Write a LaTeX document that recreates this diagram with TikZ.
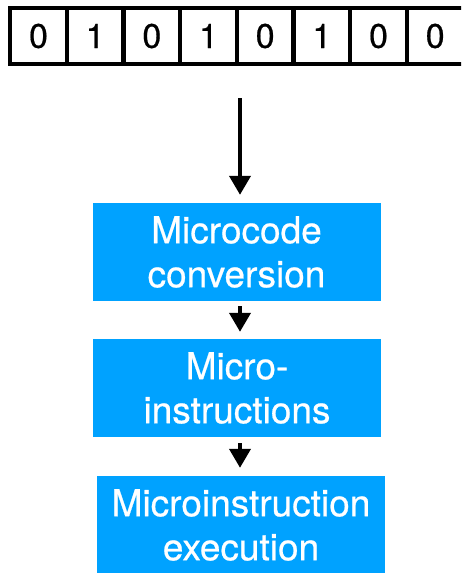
\documentclass[tikz,border=0pt]{standalone}
\usepackage{fontspec}
\setmainfont{TeX Gyre Heros}
\newfontfamily\medfont[FakeBold=0.6]{TeX Gyre Heros}
\usetikzlibrary{arrows.meta}
\definecolor{keyblue}{HTML}{00A2FF}
\tikzset{
  bit/.style={draw=black, line width=4pt, minimum width=57pt, minimum height=56pt, inner sep=0pt, font=\medfont\fontsize{34}{38}\selectfont},
  bluebox/.style={fill=keyblue, text=white, minimum width=288pt, minimum height=98pt, inner sep=0pt, align=center, font=\medfont\fontsize{37}{44}\selectfont},
  flow/.style={line width=4pt, -{Triangle[length=19pt, width=21pt]}},
}
\begin{document}
\begin{tikzpicture}[x=1pt, y=-1pt]
\useasboundingbox (0,0) rectangle (461,573);
\clip (0,0) rectangle (461,573);
\foreach \i/\b in {0/0,1/1,2/0,3/1,4/0,5/1,6/0,7/0} {
  \node[bit] (b\i) at ({38.5+56.67*\i},36) {\b};
}
\node[bluebox] (m1) at (236.5,252) {Microcode\\conversion};
\node[bluebox] (m2) at (237,388) {Micro-\\instructions};
\node[bluebox] (m3) at (241,525) {Microinstruction\\execution};
\coordinate (s1) at (240,98);
\coordinate (s2) at (240,306);
\coordinate (s3) at (240,443);
\draw[flow, shorten >=8pt] (s1) -- (m1.north -| s1);
\draw[flow, shorten >=7pt] (s2) -- (m2.north -| s2);
\draw[flow, shorten >=8pt] (s3) -- (m3.north -| s3);
\end{tikzpicture}
\end{document}
